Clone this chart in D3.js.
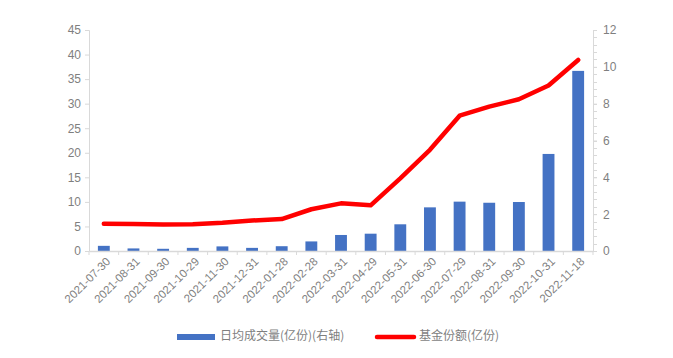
<!DOCTYPE html>
<html><head><meta charset="utf-8">
<script src="https://cdn.jsdelivr.net/npm/d3@7"></script>
<style>
html,body{margin:0;padding:0;background:#fff;}
svg{display:block;}
text{font-family:"Liberation Sans","DejaVu Sans",sans-serif;}
</style></head>
<body><svg id="c" width="673" height="358"></svg>
<script>
const categories = ["2021-07-30","2021-08-31","2021-09-30","2021-10-29","2021-11-30","2021-12-31","2022-01-28","2022-02-28","2022-03-31","2022-04-29","2022-05-31","2022-06-30","2022-07-29","2022-08-31","2022-09-30","2022-10-31","2022-11-18"];
const volume = [0.28,0.14,0.12,0.17,0.25,0.17,0.26,0.52,0.87,0.94,1.45,2.37,2.68,2.62,2.66,5.27,9.78];
const shares = [5.55,5.5,5.4,5.45,5.75,6.2,6.5,8.5,9.7,9.3,14.8,20.6,27.55,29.4,30.9,33.7,38.9];
const leftTicks = [0,5,10,15,20,25,30,35,40,45];
const rightTicks = [0,2,4,6,8,10,12];
const seriesNames = ["日均成交量(亿份)(右轴)","基金份额(亿份)"];

const svg = d3.select("#c");
const L = 89, R = 593, T = 30, B = 251;
const axisColor = "#d9d9d9", textColor = "#7f7f7f";
const barColor = "#4472C4", lineColor = "#FF0000";

const x = d3.scaleBand().domain(categories).range([L, R]).paddingInner(0.6).paddingOuter(0.3);
const xb = d3.scaleBand().domain(categories).range([L, R]);
const yL = d3.scaleLinear().domain([0, 45]).range([B, T]);
const yR = d3.scaleLinear().domain([0, 12]).range([B, T]);

// left axis
const gl = svg.append("g").attr("transform", `translate(${L},0)`)
  .call(d3.axisLeft(yL).tickValues(leftTicks).tickSize(4).tickPadding(4));
gl.select(".domain").attr("stroke", axisColor).attr("stroke-width", 1);
gl.selectAll(".tick line").attr("stroke", axisColor);
gl.selectAll(".tick text").attr("fill", textColor).style("font-size", "12px");

// right axis minor ticks
const minor = d3.range(0, 12.001, 0.4);
svg.append("g").selectAll("line").data(minor).join("line")
  .attr("x1", R).attr("x2", R + 4)
  .attr("y1", d => Math.round(yR(d)) + 0.5).attr("y2", d => Math.round(yR(d)) + 0.5)
  .attr("stroke", axisColor);
const gr = svg.append("g").attr("transform", `translate(${R},0)`)
  .call(d3.axisRight(yR).tickValues(rightTicks).tickSize(4).tickPadding(6));
gr.select(".domain").attr("stroke", axisColor).attr("stroke-width", 1);
gr.selectAll(".tick line").attr("stroke", axisColor);
gr.selectAll(".tick text").attr("fill", textColor).style("font-size", "12px");

// bars
svg.append("g").selectAll("rect").data(categories).join("rect")
  .attr("x", d => x(d)).attr("width", x.bandwidth())
  .attr("y", (d, i) => yR(volume[i])).attr("height", (d, i) => B - yR(volume[i]))
  .attr("fill", barColor);

// x axis
const gx = svg.append("g").attr("transform", `translate(0,${B})`)
  .call(d3.axisBottom(xb).tickSize(0).tickFormat(""));
gx.select(".domain").attr("stroke", axisColor).attr("stroke-width", 1.5);
svg.append("g").selectAll("line").data(categories.concat(["_end"])).join("line")
  .attr("x1", (d, i) => L + i * xb.step()).attr("x2", (d, i) => L + i * xb.step())
  .attr("y1", B).attr("y2", B + 4).attr("stroke", axisColor);
svg.append("g").selectAll("text").data(categories).join("text")
  .attr("transform", d => `translate(${xb(d) + xb.bandwidth() / 2 + 5},${B + 9}) rotate(-45)`)
  .attr("text-anchor", "end").attr("dominant-baseline", "middle")
  .attr("fill", textColor).style("font-size", "11.5px").text(d => d);

// line
const line = d3.line().x((d, i) => xb(categories[i]) + xb.bandwidth() / 2).y(d => yL(d));
svg.append("path").datum(shares).attr("d", line)
  .attr("fill", "none").attr("stroke", lineColor).attr("stroke-width", 4.5)
  .attr("stroke-linejoin", "round").attr("stroke-linecap", "round");

// legend
const lg = svg.append("g");
lg.append("rect").attr("x", 177).attr("y", 334).attr("width", 38).attr("height", 6).attr("fill", barColor);
lg.append("text").attr("x", 220).attr("y", 337).attr("dominant-baseline", "middle")
  .attr("fill", textColor).style("font-size", "12px")
  .style("font-family", "'Noto Sans CJK SC',sans-serif").text(seriesNames[0]);
lg.append("line").attr("x1", 377).attr("x2", 414).attr("y1", 337).attr("y2", 337)
  .attr("stroke", lineColor).attr("stroke-width", 4.5).attr("stroke-linecap", "round");
lg.append("text").attr("x", 419).attr("y", 337).attr("dominant-baseline", "middle")
  .attr("fill", textColor).style("font-size", "12px")
  .style("font-family", "'Noto Sans CJK SC',sans-serif").text(seriesNames[1]);
</script></body></html>
